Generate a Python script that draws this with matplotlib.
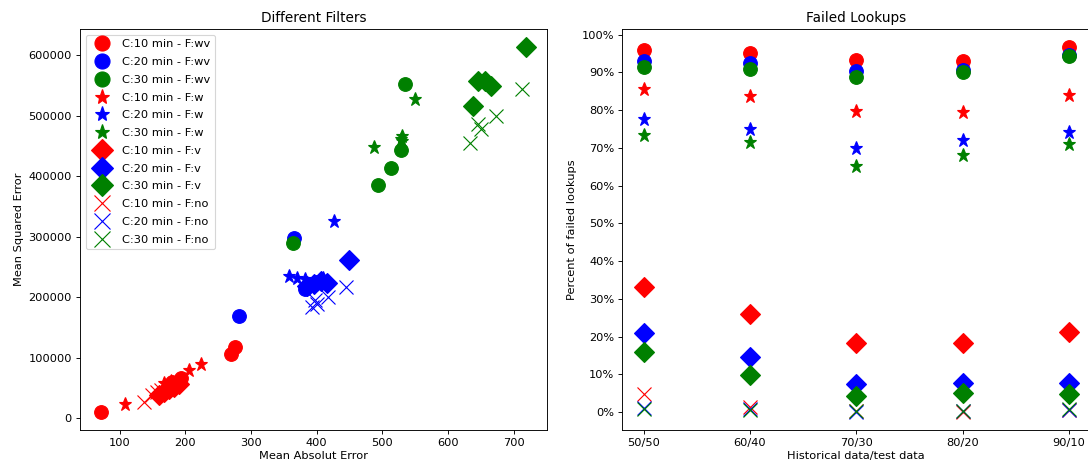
import numpy as np
import matplotlib
matplotlib.use("Agg")
import matplotlib.pyplot as plt
from matplotlib.ticker import PercentFormatter

# Series settings: cycle length (color) and filter (marker)
cycles = ["C:10 min", "C:20 min", "C:30 min"]
colors = ["red", "blue", "green"]
filters = ["wv", "w", "v", "no"]
markers = {"wv": "o", "w": "*", "v": "D", "no": "x"}

# Left chart: mean absolute error / mean squared error per split
mae_10_wv = [72, 180, 193, 269, 276]
mse_10_wv = [10500, 59000, 67000, 106000, 117000]
mae_20_wv = [282, 365, 382, 395, 400]
mse_20_wv = [169000, 298000, 213000, 220000, 225000]
mae_30_wv = [364, 494, 513, 528, 534]
mse_30_wv = [290000, 385000, 413000, 444000, 552000]

mae_10_w = [108, 168, 178, 206, 224]
mse_10_w = [23000, 58000, 62000, 80000, 89000]
mae_20_w = [358, 370, 383, 410, 426]
mse_20_w = [235000, 232000, 230000, 232000, 326000]
mae_30_w = [488, 529, 530, 530, 550]
mse_30_w = [448000, 462000, 466000, 458000, 528000]

mae_10_v = [160, 168, 175, 183, 190]
mse_10_v = [38000, 44000, 48000, 52000, 57000]
mae_20_v = [385, 396, 406, 416, 450]
mse_20_v = [218000, 221000, 227000, 224000, 261000]
mae_30_v = [638, 645, 656, 666, 718]
mse_30_v = [516000, 557000, 557000, 549000, 613000]

mae_10_no = [137, 150, 157, 163, 170]
mse_10_no = [27000, 38000, 43000, 46000, 50000]
mae_20_no = [393, 398, 400, 418, 444]
mse_20_no = [184000, 196000, 188000, 201000, 216000]
mae_30_no = [633, 645, 650, 673, 713]
mse_30_no = [455000, 487000, 478000, 500000, 544000]

# Right chart: share of failed lookups per split
splits = ["50/50", "60/40", "70/30", "80/20", "90/10"]
fail_10_wv = [0.958, 0.951, 0.933, 0.930, 0.966]
fail_20_wv = [0.930, 0.925, 0.904, 0.906, 0.947]
fail_30_wv = [0.914, 0.908, 0.888, 0.901, 0.942]
fail_10_w = [0.855, 0.838, 0.798, 0.795, 0.840]
fail_20_w = [0.775, 0.750, 0.700, 0.720, 0.742]
fail_30_w = [0.735, 0.716, 0.653, 0.682, 0.710]
fail_10_v = [0.331, 0.260, 0.182, 0.184, 0.213]
fail_20_v = [0.210, 0.145, 0.075, 0.077, 0.078]
fail_30_v = [0.158, 0.099, 0.043, 0.050, 0.048]
fail_10_no = [0.047, 0.013, 0.002, 0.001, 0.005]
fail_20_no = [0.012, 0.008, 0.001, 0.002, 0.005]
fail_30_no = [0.008, 0.007, 0.002, 0.004, 0.009]

mae = {
    "wv": [mae_10_wv, mae_20_wv, mae_30_wv],
    "w": [mae_10_w, mae_20_w, mae_30_w],
    "v": [mae_10_v, mae_20_v, mae_30_v],
    "no": [mae_10_no, mae_20_no, mae_30_no],
}
mse = {
    "wv": [mse_10_wv, mse_20_wv, mse_30_wv],
    "w": [mse_10_w, mse_20_w, mse_30_w],
    "v": [mse_10_v, mse_20_v, mse_30_v],
    "no": [mse_10_no, mse_20_no, mse_30_no],
}
fail = {
    "wv": [fail_10_wv, fail_20_wv, fail_30_wv],
    "w": [fail_10_w, fail_20_w, fail_30_w],
    "v": [fail_10_v, fail_20_v, fail_30_v],
    "no": [fail_10_no, fail_20_no, fail_30_no],
}

dpi = 82
fig = plt.figure(figsize=(1088 / dpi, 465 / dpi), dpi=dpi)
ax1 = fig.add_axes([0.0735, 0.0753, 0.429, 0.862])
ax2 = fig.add_axes([0.572, 0.0753, 0.430, 0.862])

ms = 12
xpos = np.arange(len(splits))
for f in filters:
    for i, c in enumerate(cycles):
        label = f"{c} - F:{f}"
        ax1.plot(mae[f][i], mse[f][i], linestyle="none", marker=markers[f],
                 color=colors[i], markersize=ms, label=label)
        ax2.plot(xpos, fail[f][i], linestyle="none", marker=markers[f],
                 color=colors[i], markersize=ms, label=label)

ax1.set_title("Different Filters")
ax1.set_xlabel("Mean Absolut Error", labelpad=3)
ax1.set_ylabel("Mean Squared Error")
ax1.legend(loc="upper left", labelspacing=0.68, markerscale=1.1)

ax2.set_title("Failed Lookups")
ax2.set_xlabel("Historical data/test data", labelpad=3)
ax2.set_ylabel("Percent of failed lookups")
ax2.set_xticks(xpos)
ax2.set_xticklabels(splits)
ax2.set_yticks(np.arange(0, 1.01, 0.1))
ax2.yaxis.set_major_formatter(PercentFormatter(1.0, decimals=0))

fig.savefig("out.png", dpi=dpi)
